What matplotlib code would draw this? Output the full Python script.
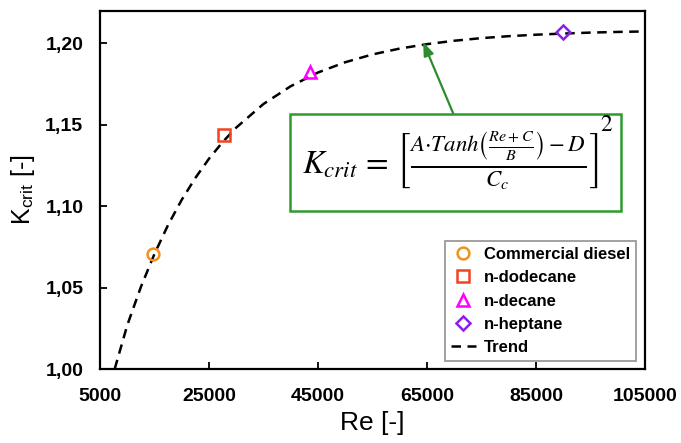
import numpy as np
import matplotlib.pyplot as plt
from matplotlib.patches import Rectangle

fuels = ['Commercial diesel', 'n-dodecane', 'n-decane', 'n-heptane']
re_pts = [14700, 27800, 43500, 90000]
k_pts = [1.0706, 1.1436, 1.182, 1.2067]
markers = ['o', 's', '^', 'D']
colors = ['#F4901E', '#EE4420', '#FF00FF', '#8B1EE8']
msizes = [8.5, 8.5, 8.5, 7]

# trend line
re_trend = [7700, 10000, 12500, 15000, 17500, 20000, 22500, 25000, 27500, 30000,
            35000, 40000, 45000, 50000, 55000, 60000, 65000, 70000, 75000,
            80000, 85000, 90000, 95000, 100000, 105000]
k_trend = [1.000, 1.0268, 1.0503, 1.0706, 1.0884, 1.1038, 1.1172, 1.1290, 1.1392, 1.1481,
           1.1626, 1.1735, 1.1819, 1.1882, 1.1930, 1.1966, 1.1993, 1.2014, 1.2030,
           1.2042, 1.2051, 1.2058, 1.2064, 1.2068, 1.2071]

xticks = [5000, 25000, 45000, 65000, 85000, 105000]
yticks = [1.00, 1.05, 1.10, 1.15, 1.20]
ytick_labels = ['1,00', '1,05', '1,10', '1,15', '1,20']

plt.rcParams['font.family'] = ['Liberation Sans', 'DejaVu Sans']
plt.rcParams['mathtext.fontset'] = 'stix'

fig = plt.figure(figsize=(6.81, 4.43), dpi=100)
ax = fig.add_axes([0.1468, 0.167, 0.8002, 0.808])

for name, x, y, m, c, s in zip(fuels, re_pts, k_pts, markers, colors, msizes):
    ax.plot(x, y, linestyle='none', marker=m, markersize=s, markerfacecolor='none',
            markeredgecolor=c, markeredgewidth=1.8, label=name, zorder=3)
ax.plot(re_trend, k_trend, color='black', linestyle=(0, (3.8, 2.6)), linewidth=1.8,
        label='Trend', zorder=2)

ax.set_xlim(5000, 105000)
ax.set_ylim(1.0, 1.2196)
ax.set_xticks(xticks)
ax.set_xticklabels([str(v) for v in xticks])
ax.set_yticks(yticks)
ax.set_yticklabels(ytick_labels)
ax.tick_params(direction='in', length=5, width=1.3, labelsize=14)
ax.tick_params(axis='x', pad=14)
ax.tick_params(axis='y', pad=12)
for lab in ax.get_xticklabels() + ax.get_yticklabels():
    lab.set_fontweight('bold')
for sp in ax.spines.values():
    sp.set_linewidth(1.6)

ax.set_xlabel('Re [-]', fontsize=19, labelpad=4)
ax.set_ylabel(r'K$_\mathregular{crit}$ [-]', fontsize=18, labelpad=6)

leg = ax.legend(loc='lower right', bbox_to_anchor=(0.9835, 0.022), frameon=True,
                fancybox=False, edgecolor='#808080', prop={'weight': 'bold', 'size': 12},
                handlelength=1.5, handletextpad=0.5, labelspacing=0.5,
                borderpad=0.35, borderaxespad=0, numpoints=1)
leg.get_frame().set_linewidth(1.3)

# equation box
box = Rectangle((0.3486, 0.441), 0.6075, 0.271, transform=ax.transAxes,
                facecolor='white', edgecolor='#2E9A2E', linewidth=1.8, zorder=4)
ax.add_patch(box)
formula = r'$K_{crit}\, =\, \left[\frac{A{\cdot}Tanh\left(\frac{Re+C}{B}\right)-D}{C_c}\right]$'
ax.text(0.643, 0.582, formula, transform=ax.transAxes,
        ha='center', va='center', fontsize=23.5, zorder=5)
ax.text(0.929, 0.682, '2', transform=ax.transAxes, ha='center', va='center',
        fontsize=17, family='STIXGeneral', zorder=5)

ax.annotate('', xy=(64300, 1.2006), xytext=(69800, 1.157),
            arrowprops=dict(arrowstyle='-|>,head_length=0.8,head_width=0.3',
                            color='#2E8B2E', linewidth=1.6, shrinkA=0, shrinkB=0),
            zorder=5)

fig.savefig('out.png', dpi=100)
